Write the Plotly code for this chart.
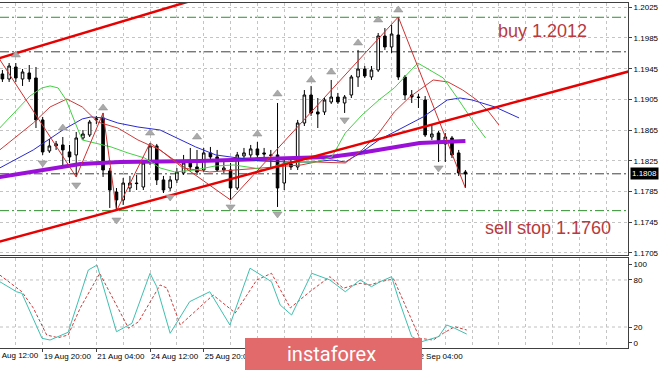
import plotly.graph_objects as go

# ---------------- data ----------------
bar_k = list(range(2, 72))
opens = [1.19381, 1.19316, 1.19472, 1.19316, 1.19394, 1.19329, 1.18782, 1.18378, 1.18443, 1.18456,
         1.18365, 1.18326, 1.18547, 1.18586, 1.18782, 1.18808, 1.18117, 1.17843, 1.17739, 1.17895,
         1.17960, 1.17908, 1.18234, 1.18443, 1.18000, 1.17895, 1.18000, 1.18091, 1.18221, 1.18169,
         1.18130, 1.18352, 1.18300, 1.18130, 1.18130, 1.17895, 1.18313, 1.18326, 1.18404, 1.18352,
         1.18326, 1.18326, 1.17960, 1.18208, 1.18169, 1.18742, 1.19107, 1.18886, 1.18886, 1.19016,
         1.19081, 1.19003, 1.19107, 1.19342, 1.19446, 1.19342, 1.19433, 1.19876, 1.19733, 1.19889,
         1.19342, 1.19107, 1.19081, 1.19042, 1.18560, 1.18612, 1.18469, 1.18547, 1.18352, 1.18104]
highs = [1.19433, 1.19524, 1.19524, 1.19446, 1.19498, 1.19472, 1.18821, 1.18534, 1.18508, 1.18560,
         1.18456, 1.18625, 1.18651, 1.18782, 1.18834, 1.18873, 1.18156, 1.17895, 1.18026, 1.18052,
         1.18065, 1.18260, 1.18482, 1.18469, 1.18052, 1.18052, 1.18156, 1.18326, 1.18417, 1.18391,
         1.18417, 1.18430, 1.18391, 1.18260, 1.18221, 1.18365, 1.18417, 1.18456, 1.18495, 1.18417,
         1.18391, 1.19003, 1.18260, 1.18286, 1.18782, 1.19172, 1.19225, 1.19068, 1.19081, 1.19303,
         1.19134, 1.19107, 1.19368, 1.19694, 1.19485, 1.19485, 1.19915, 1.19980, 1.20019, 1.20124,
         1.19368, 1.19172, 1.19121, 1.19094, 1.18716, 1.18638, 1.18612, 1.18573, 1.18391, 1.18130]
lows = [1.19277, 1.19277, 1.19277, 1.19225, 1.19277, 1.18677, 1.18326, 1.18352, 1.18391, 1.18156,
        1.18221, 1.18039, 1.18521, 1.18560, 1.18729, 1.18039, 1.17635, 1.17596, 1.17674, 1.17843,
        1.17869, 1.17869, 1.18195, 1.17934, 1.17830, 1.17856, 1.17960, 1.18065, 1.18130, 1.18065,
        1.18104, 1.18260, 1.18104, 1.18091, 1.17739, 1.17869, 1.18260, 1.18286, 1.18260, 1.18260,
        1.18156, 1.17648, 1.17869, 1.18130, 1.18130, 1.18703, 1.18834, 1.18677, 1.18847, 1.18990,
        1.18990, 1.18873, 1.19068, 1.19212, 1.19329, 1.19303, 1.19407, 1.19694, 1.19655, 1.19303,
        1.19042, 1.19003, 1.18938, 1.18560, 1.18521, 1.18234, 1.18234, 1.18286, 1.18052, 1.17895]
closes = [1.19316, 1.19485, 1.19329, 1.19407, 1.19316, 1.18782, 1.18365, 1.18443, 1.18469, 1.18391,
          1.18300, 1.18547, 1.18599, 1.18755, 1.18795, 1.18130, 1.17869, 1.17739, 1.17960, 1.17960,
          1.17953, 1.18221, 1.18443, 1.18000, 1.17869, 1.18000, 1.18104, 1.18221, 1.18169, 1.18104,
          1.18352, 1.18300, 1.18130, 1.18156, 1.17895, 1.18326, 1.18352, 1.18404, 1.18326, 1.18339,
          1.18320, 1.17895, 1.18221, 1.18169, 1.18742, 1.19107, 1.18873, 1.18860, 1.19042, 1.19081,
          1.19016, 1.19081, 1.19342, 1.19446, 1.19355, 1.19433, 1.19876, 1.19733, 1.19902, 1.19342,
          1.19107, 1.19081, 1.19075, 1.18586, 1.18599, 1.18482, 1.18560, 1.18326, 1.18091, 1.18080]

# Alligator-style moving averages
green_k = [1.6, 3.9, 6.1, 7.9, 9.1, 10.3, 11.5, 12.8, 13.9, 18.2, 20.7, 23.2, 25.5, 27.7, 30.7, 33.7,
           36.5, 39.5, 41.0, 44.0, 46.5, 48.7, 51.1, 53.1, 55.6, 58.1, 60.4, 63.9, 65.7, 67.7, 69.7, 72.0, 74.0]
green_p = [1.18677, 1.18886, 1.19094, 1.19199, 1.19225, 1.19199, 1.19042, 1.18755, 1.18521, 1.18430,
           1.18352, 1.18286, 1.18156, 1.18104, 1.18130, 1.18182, 1.18195, 1.18156, 1.18130, 1.18221,
           1.18234, 1.18234, 1.18300, 1.18612, 1.18847, 1.19042, 1.19199, 1.19524, 1.19433, 1.19329,
           1.19081, 1.18782, 1.18547]
red_k = [1.6, 6.6, 9.1, 11.6, 13.9, 16.2, 19.2, 22.2, 25.5, 28.9, 32.9, 36.8, 41.4, 46.5, 48.7, 53.1,
         55.6, 58.1, 60.4, 62.7, 66.2, 68.4, 70.6, 72.7, 74.5, 76.0]
red_p = [1.18391, 1.18742, 1.18951, 1.19055, 1.18951, 1.18755, 1.18677, 1.18521, 1.18391, 1.18156,
         1.18104, 1.18130, 1.18156, 1.18195, 1.18234, 1.18221, 1.18391, 1.18612, 1.18886, 1.19081,
         1.19303, 1.19277, 1.19172, 1.19042, 1.18886, 1.18716]
blue_k = [1.6, 6.6, 11.0, 13.9, 15.2, 17.0, 19.2, 22.2, 25.5, 27.9, 30.8, 33.8, 36.8, 40.4, 44.9, 48.1,
          51.1, 53.1, 55.6, 58.1, 60.4, 64.7, 68.3, 70.2, 72.0, 75.4, 79.0]
blue_p = [1.18156, 1.18391, 1.18651, 1.18795, 1.18821, 1.18808, 1.18742, 1.18690, 1.18651, 1.18547,
          1.18430, 1.18326, 1.18286, 1.18247, 1.18234, 1.18234, 1.18260, 1.18234, 1.18365, 1.18521,
          1.18625, 1.18821, 1.19042, 1.19068, 1.19042, 1.18951, 1.18808]
purple_k = [1.6, 7.6, 13.6, 19.5, 31.4, 40.4, 46.3, 50.8, 55.3, 60.4, 64.2, 71.0]
purple_p = [1.18039, 1.18130, 1.18208, 1.18234, 1.18247, 1.18273, 1.18286, 1.18300, 1.18352, 1.18430,
            1.18482, 1.18508]

zigzag_k = [0, 13, 17, 19, 24, 36, 61, 71]
zigzag_p = [1.19785, 1.18039, 1.18873, 1.17596, 1.18482, 1.17739, 1.20124, 1.17895]

frac_up_k = [4, 11, 17, 24, 31, 40, 43, 48, 51, 55, 58, 61]
frac_up_p = [1.19629, 1.18677, 1.18938, 1.18612, 1.18560, 1.18599, 1.19121, 1.19303, 1.19407,
             1.19785, 1.20085, 1.20215]
frac_dn_k = [8, 13, 19, 27, 36, 43, 53, 67]
frac_dn_p = [1.18221, 1.17934, 1.17478, 1.17778, 1.17648, 1.17557, 1.18782, 1.18156]

# trend channel lines (two anchor points each)
trend_up_k = [0, 40]
trend_up_p = [1.19547, 1.20593]
trend_lo_k = [0, 96]
trend_lo_p = [1.17160, 1.19430]

levels_green = [1.2012, 1.1760]
levels_black = [1.1967, 1.1808]

# stochastic oscillator
stoch_k = [1.6, 4.1, 4.9, 7.9, 9.1, 11.8, 14.8, 16.1, 19.0, 21.3, 24.0, 25.0, 27.0, 29.9, 32.9, 35.9,
           38.9, 42.1, 43.4, 45.1, 48.1, 50.8, 53.1, 55.3, 57.0, 58.3, 60.0, 61.0, 63.0, 64.5, 67.0,
           68.2, 69.4, 71.2]
stoch_main = [77.8, 65, 63, 5.6, 3.4, 13.3, 92.7, 99, 14, 24.7, 88.5, 71.4, 12, 52.3, 65, 22.6,
              95, 77.8, 48, 35.3, 88.5, 80, 65, 80, 71.4, 77.8, 84.2, 56.6, 7.7, 1.3, 7.7,
              22.6, 18.4, 11]
signal_k = [1.6, 4.9, 6.6, 8.6, 10.3, 11.8, 13.6, 16.5, 20.8, 22.3, 25.5, 26.5, 28.5, 30.4, 33.4,
            36.7, 39.9, 42.1, 44.9, 47.8, 50.8, 52.8, 55.3, 56.8, 58.3, 60.3, 62.2, 64.2, 66.2,
            67.7, 69.4, 71.2]
stoch_signal = [86.4, 65, 44.3, 9.8, 6.4, 9.8, 44.3, 88.5, 18.4, 26.8, 73.6, 69.8, 22.6, 37.9, 60.8,
                37.9, 80, 88.5, 44.3, 65, 84.2, 69.4, 75.8, 73.6, 77.8, 81.3, 43.9, 5.6, 3.4,
                12, 20.4, 16.2]
stoch_levels = [20, 80]

price_ticks = [1.1705, 1.1745, 1.1785, 1.1825, 1.1865, 1.1905, 1.1945, 1.1985, 1.2025]
price_tick_text = ["1.1705", "1.1745", "1.1785", "1.1825", "1.1865", "1.1905", "1.1945", "1.1985", "1.2025"]
osc_ticks = [0, 20, 80, 100]
# labels at 27/28/31 Aug are hidden behind the logo in the reference
time_tick_k = [8, 16, 24, 32, 40, 48, 56, 64]
time_tick_text = ["19 Aug 20:00", "21 Aug 04:00", "24 Aug 12:00", "25 Aug 20:00",
                  "", "", "", "2 Sep 04:00"]
grid_k = list(range(0, 97, 4))
last_price = 1.1808

# ---------------- figure ----------------
W, H = 665, 370
XR = [1.64, 95.23]
XD = [0, 628 / W]
FONT = "Liberation Sans"

fig = go.Figure()

fig.add_trace(go.Candlestick(
    x=bar_k, open=opens, high=highs, low=lows, close=closes,
    increasing=dict(line=dict(color="black", width=1), fillcolor="white"),
    decreasing=dict(line=dict(color="black", width=1), fillcolor="black"),
    whiskerwidth=0, xaxis="x", yaxis="y", hoverinfo="skip"))

fig.add_trace(go.Scatter(x=purple_k, y=purple_p, mode="lines",
                         line=dict(color="#9b10d8", width=4), xaxis="x", yaxis="y"))
fig.add_trace(go.Scatter(x=blue_k, y=blue_p, mode="lines",
                         line=dict(color="#2a2ad0", width=1), xaxis="x", yaxis="y"))
fig.add_trace(go.Scatter(x=red_k, y=red_p, mode="lines",
                         line=dict(color="#d03a3a", width=1), xaxis="x", yaxis="y"))
fig.add_trace(go.Scatter(x=green_k, y=green_p, mode="lines",
                         line=dict(color="#44d044", width=1), xaxis="x", yaxis="y"))
fig.add_trace(go.Scatter(x=zigzag_k, y=zigzag_p, mode="lines",
                         line=dict(color="#d03030", width=1), xaxis="x", yaxis="y"))
fig.add_trace(go.Scatter(x=trend_up_k, y=trend_up_p, mode="lines",
                         line=dict(color="#e80000", width=2.5), xaxis="x", yaxis="y"))
fig.add_trace(go.Scatter(x=trend_lo_k, y=trend_lo_p, mode="lines",
                         line=dict(color="#e80000", width=2.5), xaxis="x", yaxis="y"))
fig.add_trace(go.Scatter(x=frac_up_k, y=frac_up_p, mode="markers",
                         marker=dict(symbol="triangle-up", size=8, color="#aaaaaa",
                                     line=dict(color="#8a8a8a", width=0.5)),
                         xaxis="x", yaxis="y", cliponaxis=True))
fig.add_trace(go.Scatter(x=frac_dn_k, y=frac_dn_p, mode="markers",
                         marker=dict(symbol="triangle-down", size=8, color="#aaaaaa",
                                     line=dict(color="#8a8a8a", width=0.5)),
                         xaxis="x", yaxis="y", cliponaxis=True))

fig.add_trace(go.Scatter(x=signal_k, y=stoch_signal, mode="lines",
                         line=dict(color="#d03a3a", width=1, dash="3px,2px"), xaxis="x2", yaxis="y2"))
fig.add_trace(go.Scatter(x=stoch_k, y=stoch_main, mode="lines",
                         line=dict(color="#3fbfb0", width=1), xaxis="x2", yaxis="y2"))

shapes = []
for lv in levels_green:
    shapes.append(dict(type="line", xref="x", yref="y", x0=XR[0], x1=XR[1], y0=lv, y1=lv,
                       line=dict(color="#2f8f2f", width=1, dash="9px,3px,2px,3px"), layer="below"))
for lv in levels_black:
    shapes.append(dict(type="line", xref="x", yref="y", x0=XR[0], x1=XR[1], y0=lv, y1=lv,
                       line=dict(color="#404040", width=1, dash="9px,3px,2px,3px"), layer="below"))
for lv in stoch_levels:
    shapes.append(dict(type="line", xref="x2", yref="y2", x0=XR[0], x1=XR[1], y0=lv, y1=lv,
                       line=dict(color="#c0c0c0", width=1, dash="3px,3px"), layer="below"))
# logo box
shapes.append(dict(type="rect", xref="paper", yref="paper", x0=245 / W, x1=422 / W,
                   y0=0, y1=1 - 338 / H, fillcolor="#e26a6a", line=dict(width=0), layer="above"))

annotations = [
    dict(text="buy 1.2012", xref="paper", yref="paper", x=542 / W, y=1 - 31 / H,
         xanchor="center", yanchor="middle",
         showarrow=False, font=dict(family=FONT, size=18, color="#b83a3f")),
    dict(text="sell stop 1.1760", xref="paper", yref="paper", x=548 / W, y=1 - 228 / H,
         xanchor="center", yanchor="middle",
         showarrow=False, font=dict(family=FONT, size=18, color="#b83a3f")),
    dict(text="1.1808", xref="paper", yref="y", x=630 / W, y=last_price, xanchor="left",
         yanchor="middle", showarrow=False, bgcolor="black", borderpad=1,
         font=dict(family=FONT, size=8, color="white")),
    dict(text="18 Aug 12:00", xref="paper", yref="paper", x=-11 / W, y=1 - 355 / H,
         xanchor="left", yanchor="middle", showarrow=False,
         font=dict(family=FONT, size=8, color="black")),
    dict(text="instaforex", xref="paper", yref="paper", x=331 / W, y=1 - 354 / H,
         xanchor="center", yanchor="middle",
         showarrow=False, font=dict(family="Roboto", size=20, color="white")),
]

grid_style = dict(showgrid=True, gridcolor="#c4c4c4", griddash="dot", gridwidth=1)

fig.update_layout(
    width=W, height=H, margin=dict(l=0, r=0, t=0, b=0, autoexpand=False),
    paper_bgcolor="white", plot_bgcolor="white", showlegend=False, hovermode=False,
    boxgap=0.45,
    font=dict(family=FONT, size=8, color="black"),
    xaxis=dict(domain=XD, range=XR, anchor="y", tickvals=grid_k, showticklabels=False,
               ticks="", showline=True, mirror=True, linecolor="#404040", zeroline=False,
               rangeslider=dict(visible=False), **grid_style),
    yaxis=dict(domain=[1 - 255 / H, 1 - 3 / H], range=[1.17022, 1.20306], side="right",
               anchor="x", tickvals=price_ticks, ticktext=price_tick_text, ticks="outside",
               ticklen=3, tickcolor="#404040", showline=True, mirror=True, linecolor="#404040",
               zeroline=False, tickfont=dict(size=8), **grid_style),
    xaxis2=dict(domain=XD, range=XR, anchor="y2", tickvals=time_tick_k, ticktext=time_tick_text,
                ticklabelposition="outside right", tickangle=0, ticks="outside", ticklen=3,
                tickcolor="#404040", showline=True, mirror=True, linecolor="#404040",
                zeroline=False, tickfont=dict(size=8), showgrid=False,
                minor=dict(tickvals=grid_k, showgrid=True, gridcolor="#c4c4c4",
                           griddash="dot", ticks="")),
    yaxis2=dict(domain=[1 - 348 / H, 1 - 258 / H], range=[-6.76, 108.0], side="right",
                anchor="x2", tickvals=osc_ticks, ticks="outside", ticklen=3,
                tickcolor="#404040", showline=True, mirror=True, linecolor="#404040",
                zeroline=False, showgrid=False, tickfont=dict(size=8)),
    shapes=shapes, annotations=annotations,
)

fig.write_html("out.html", config={"displayModeBar": False},
               post_script="document.body.style.margin='0';document.body.style.padding='0';")
